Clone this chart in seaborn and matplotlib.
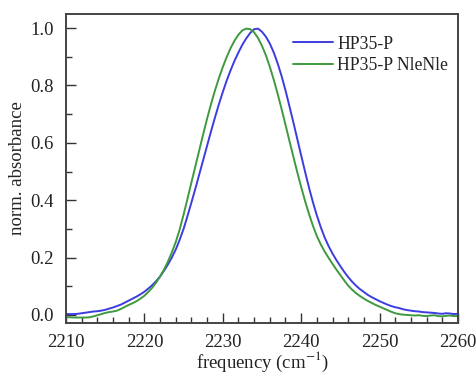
import numpy as np
import pandas as pd
import matplotlib
matplotlib.use("Agg")
import matplotlib.pyplot as plt
from matplotlib.ticker import MultipleLocator
from matplotlib.lines import Line2D
import seaborn as sns

freq = [2210 + 0.5 * i for i in range(101)]
hp35p = [0.003, 0.003, 0.003, 0.004, 0.006, 0.008, 0.010, 0.012, 0.013, 0.015,
         0.018, 0.022, 0.026, 0.031, 0.036, 0.043, 0.050, 0.057, 0.064, 0.072,
         0.081, 0.092, 0.104, 0.118, 0.134, 0.154, 0.176, 0.200, 0.228, 0.262,
         0.300, 0.345, 0.392, 0.440, 0.490, 0.540, 0.590, 0.640, 0.688, 0.734,
         0.777, 0.817, 0.853, 0.886, 0.915, 0.942, 0.964, 0.983, 0.996, 0.998,
         0.987, 0.970, 0.946, 0.915, 0.877, 0.833, 0.783, 0.728, 0.672, 0.614,
         0.556, 0.499, 0.444, 0.393, 0.347, 0.306, 0.270, 0.240, 0.214, 0.191,
         0.170, 0.150, 0.132, 0.116, 0.102, 0.090, 0.080, 0.070, 0.062, 0.055,
         0.048, 0.042, 0.036, 0.031, 0.027, 0.024, 0.020, 0.017, 0.015, 0.013,
         0.012, 0.010, 0.009, 0.008, 0.007, 0.005, 0.004, 0.006, 0.005, 0.003,
         0.004]
hp35p_nle = [-0.008, -0.008, -0.009, -0.009, -0.009, -0.009, -0.008, -0.005, -0.001, 0.003,
             0.007, 0.010, 0.012, 0.015, 0.021, 0.028, 0.035, 0.041, 0.048, 0.057,
             0.067, 0.080, 0.095, 0.113, 0.134, 0.158, 0.186, 0.218, 0.254, 0.298,
             0.350, 0.405, 0.462, 0.518, 0.574, 0.630, 0.684, 0.735, 0.782, 0.825,
             0.864, 0.899, 0.930, 0.956, 0.977, 0.992, 0.998, 0.996, 0.985, 0.965,
             0.938, 0.905, 0.865, 0.820, 0.771, 0.718, 0.663, 0.607, 0.552, 0.498,
             0.446, 0.397, 0.352, 0.311, 0.275, 0.246, 0.221, 0.199, 0.178, 0.158,
             0.139, 0.120, 0.102, 0.088, 0.076, 0.066, 0.057, 0.049, 0.042, 0.035,
             0.029, 0.023, 0.017, 0.011, 0.006, 0.003, 0.001, 0.000, -0.001, -0.002,
             -0.001, -0.003, -0.004, -0.002, -0.001, -0.004, -0.005, -0.003, -0.002, -0.004,
             -0.004]
series_names = ["HP35-P", "HP35-P NleNle"]
x_ticks = [2210, 2220, 2230, 2240, 2250, 2260]
y_ticks = [0.0, 0.2, 0.4, 0.6, 0.8, 1.0]

df = pd.DataFrame({
    "frequency": freq * 2,
    "absorbance": hp35p + hp35p_nle,
    "sample": [series_names[0]] * len(freq) + [series_names[1]] * len(freq),
})

sns.set_style("ticks")
plt.rcParams["font.family"] = ["Liberation Serif", "DejaVu Serif"]
plt.rcParams["mathtext.fontset"] = "stix"

fig = plt.figure(figsize=(4.77, 3.75), dpi=100)
ax = fig.add_axes([0.1384, 0.1387, 0.8216, 0.824])

palette = {series_names[0]: "#3c3ce0", series_names[1]: "#3f9a3f"}
sns.lineplot(data=df, x="frequency", y="absorbance", hue="sample",
             palette=palette, linewidth=1.4, ax=ax, legend=False)

ax.set_xlim(2210, 2260)
ax.set_ylim(-0.028, 1.049)
ax.set_xticks(x_ticks)
ax.set_yticks(y_ticks)
ax.set_xticklabels([str(t) for t in x_ticks])
ax.set_yticklabels([f"{t:.1f}" for t in y_ticks])
ax.xaxis.set_minor_locator(MultipleLocator(2))
ax.yaxis.set_minor_locator(MultipleLocator(0.1))
ax.tick_params(which="both", direction="in", top=False, right=False,
               colors="#333333", labelcolor="#222222", labelsize=13.5)
ax.tick_params(which="major", length=7, width=1.0)
ax.tick_params(which="minor", length=4, width=1.0)
ax.tick_params(axis="x", pad=8)
ax.tick_params(axis="y", pad=9)
for s in ax.spines.values():
    s.set_visible(True)
    s.set_color("#444444")
    s.set_linewidth(1.4)

ax.set_xlabel("frequency (cm$^{-1}$)", fontsize=13.5, color="#222222", labelpad=-1)
ax.set_ylabel("norm. absorbance", fontsize=13.5, color="#222222", labelpad=3)

handles = [Line2D([], [], color=palette[n], linewidth=1.4) for n in series_names]
ax.legend(handles, series_names, loc="upper left", frameon=False,
          fontsize=12.7, handlelength=2.27, handletextpad=0.23,
          labelspacing=0.25, borderpad=0, borderaxespad=0,
          bbox_to_anchor=(0.579, 0.93), labelcolor="#222222")

fig.savefig("out.png", dpi=100)
